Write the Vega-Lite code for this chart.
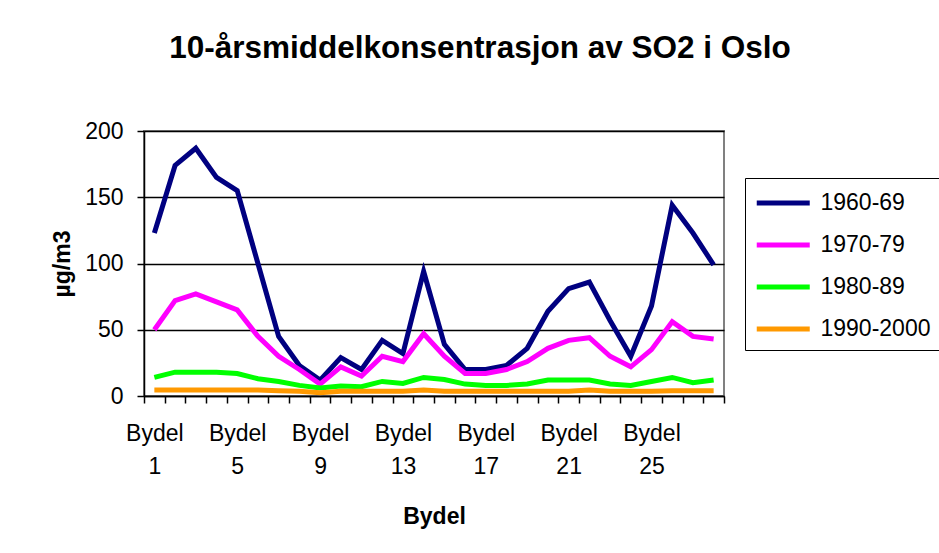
{
  "$schema": "https://vega.github.io/schema/vega-lite/v6.json",
  "autosize": {"type": "none"},
  "width": 580,
  "height": 265,
  "padding": {"left": 144, "top": 131, "right": 215, "bottom": 157},
  "background": "white",
  "config": {
    "font": "Liberation Sans",
    "view": {"stroke": "#808080", "strokeWidth": 2}
  },
  "title": {
    "text": "10-årsmiddelkonsentrasjon av SO2 i Oslo",
    "fontSize": 31.5,
    "fontWeight": "bold",
    "font": "Liberation Sans",
    "color": "black",
    "anchor": "middle",
    "frame": "group",
    "baseline": "alphabetic",
    "offset": 31,
    "dx": 46
  },
  "data": {
    "values": [
      {"bydel": 1, "periode": "1960-69", "verdi": 123},
      {"bydel": 2, "periode": "1960-69", "verdi": 174},
      {"bydel": 3, "periode": "1960-69", "verdi": 187},
      {"bydel": 4, "periode": "1960-69", "verdi": 165},
      {"bydel": 5, "periode": "1960-69", "verdi": 155},
      {"bydel": 6, "periode": "1960-69", "verdi": 100},
      {"bydel": 7, "periode": "1960-69", "verdi": 45},
      {"bydel": 8, "periode": "1960-69", "verdi": 23},
      {"bydel": 9, "periode": "1960-69", "verdi": 12},
      {"bydel": 10, "periode": "1960-69", "verdi": 29},
      {"bydel": 11, "periode": "1960-69", "verdi": 20},
      {"bydel": 12, "periode": "1960-69", "verdi": 42},
      {"bydel": 13, "periode": "1960-69", "verdi": 32},
      {"bydel": 14, "periode": "1960-69", "verdi": 94},
      {"bydel": 15, "periode": "1960-69", "verdi": 39},
      {"bydel": 16, "periode": "1960-69", "verdi": 20},
      {"bydel": 17, "periode": "1960-69", "verdi": 20},
      {"bydel": 18, "periode": "1960-69", "verdi": 23},
      {"bydel": 19, "periode": "1960-69", "verdi": 36},
      {"bydel": 20, "periode": "1960-69", "verdi": 64},
      {"bydel": 21, "periode": "1960-69", "verdi": 81},
      {"bydel": 22, "periode": "1960-69", "verdi": 86},
      {"bydel": 23, "periode": "1960-69", "verdi": 57},
      {"bydel": 24, "periode": "1960-69", "verdi": 30},
      {"bydel": 25, "periode": "1960-69", "verdi": 68},
      {"bydel": 26, "periode": "1960-69", "verdi": 144},
      {"bydel": 27, "periode": "1960-69", "verdi": 123},
      {"bydel": 28, "periode": "1960-69", "verdi": 99},
      {"bydel": 1, "periode": "1970-79", "verdi": 50},
      {"bydel": 2, "periode": "1970-79", "verdi": 72},
      {"bydel": 3, "periode": "1970-79", "verdi": 77},
      {"bydel": 4, "periode": "1970-79", "verdi": 71},
      {"bydel": 5, "periode": "1970-79", "verdi": 65},
      {"bydel": 6, "periode": "1970-79", "verdi": 45},
      {"bydel": 7, "periode": "1970-79", "verdi": 30},
      {"bydel": 8, "periode": "1970-79", "verdi": 20},
      {"bydel": 9, "periode": "1970-79", "verdi": 9},
      {"bydel": 10, "periode": "1970-79", "verdi": 22},
      {"bydel": 11, "periode": "1970-79", "verdi": 15},
      {"bydel": 12, "periode": "1970-79", "verdi": 30},
      {"bydel": 13, "periode": "1970-79", "verdi": 26},
      {"bydel": 14, "periode": "1970-79", "verdi": 47},
      {"bydel": 15, "periode": "1970-79", "verdi": 30},
      {"bydel": 16, "periode": "1970-79", "verdi": 17},
      {"bydel": 17, "periode": "1970-79", "verdi": 17},
      {"bydel": 18, "periode": "1970-79", "verdi": 20},
      {"bydel": 19, "periode": "1970-79", "verdi": 26},
      {"bydel": 20, "periode": "1970-79", "verdi": 36},
      {"bydel": 21, "periode": "1970-79", "verdi": 42},
      {"bydel": 22, "periode": "1970-79", "verdi": 44},
      {"bydel": 23, "periode": "1970-79", "verdi": 30},
      {"bydel": 24, "periode": "1970-79", "verdi": 22},
      {"bydel": 25, "periode": "1970-79", "verdi": 35},
      {"bydel": 26, "periode": "1970-79", "verdi": 56},
      {"bydel": 27, "periode": "1970-79", "verdi": 45},
      {"bydel": 28, "periode": "1970-79", "verdi": 43},
      {"bydel": 1, "periode": "1980-89", "verdi": 14},
      {"bydel": 2, "periode": "1980-89", "verdi": 18},
      {"bydel": 3, "periode": "1980-89", "verdi": 18},
      {"bydel": 4, "periode": "1980-89", "verdi": 18},
      {"bydel": 5, "periode": "1980-89", "verdi": 17},
      {"bydel": 6, "periode": "1980-89", "verdi": 13},
      {"bydel": 7, "periode": "1980-89", "verdi": 11},
      {"bydel": 8, "periode": "1980-89", "verdi": 8},
      {"bydel": 9, "periode": "1980-89", "verdi": 6},
      {"bydel": 10, "periode": "1980-89", "verdi": 7.5},
      {"bydel": 11, "periode": "1980-89", "verdi": 7},
      {"bydel": 12, "periode": "1980-89", "verdi": 11},
      {"bydel": 13, "periode": "1980-89", "verdi": 9.5},
      {"bydel": 14, "periode": "1980-89", "verdi": 14},
      {"bydel": 15, "periode": "1980-89", "verdi": 12.5},
      {"bydel": 16, "periode": "1980-89", "verdi": 9},
      {"bydel": 17, "periode": "1980-89", "verdi": 8},
      {"bydel": 18, "periode": "1980-89", "verdi": 8},
      {"bydel": 19, "periode": "1980-89", "verdi": 9},
      {"bydel": 20, "periode": "1980-89", "verdi": 12},
      {"bydel": 21, "periode": "1980-89", "verdi": 12},
      {"bydel": 22, "periode": "1980-89", "verdi": 12},
      {"bydel": 23, "periode": "1980-89", "verdi": 9},
      {"bydel": 24, "periode": "1980-89", "verdi": 8},
      {"bydel": 25, "periode": "1980-89", "verdi": 11},
      {"bydel": 26, "periode": "1980-89", "verdi": 14},
      {"bydel": 27, "periode": "1980-89", "verdi": 10},
      {"bydel": 28, "periode": "1980-89", "verdi": 12},
      {"bydel": 1, "periode": "1990-2000", "verdi": 4.5},
      {"bydel": 2, "periode": "1990-2000", "verdi": 4.5},
      {"bydel": 3, "periode": "1990-2000", "verdi": 4.5},
      {"bydel": 4, "periode": "1990-2000", "verdi": 4.5},
      {"bydel": 5, "periode": "1990-2000", "verdi": 4.5},
      {"bydel": 6, "periode": "1990-2000", "verdi": 4.5},
      {"bydel": 7, "periode": "1990-2000", "verdi": 4},
      {"bydel": 8, "periode": "1990-2000", "verdi": 3.5},
      {"bydel": 9, "periode": "1990-2000", "verdi": 2.5},
      {"bydel": 10, "periode": "1990-2000", "verdi": 3.5},
      {"bydel": 11, "periode": "1990-2000", "verdi": 3.5},
      {"bydel": 12, "periode": "1990-2000", "verdi": 3.5},
      {"bydel": 13, "periode": "1990-2000", "verdi": 3.5},
      {"bydel": 14, "periode": "1990-2000", "verdi": 4.5},
      {"bydel": 15, "periode": "1990-2000", "verdi": 3.5},
      {"bydel": 16, "periode": "1990-2000", "verdi": 3.5},
      {"bydel": 17, "periode": "1990-2000", "verdi": 3.5},
      {"bydel": 18, "periode": "1990-2000", "verdi": 3.5},
      {"bydel": 19, "periode": "1990-2000", "verdi": 3.5},
      {"bydel": 20, "periode": "1990-2000", "verdi": 3.5},
      {"bydel": 21, "periode": "1990-2000", "verdi": 3.5},
      {"bydel": 22, "periode": "1990-2000", "verdi": 4.5},
      {"bydel": 23, "periode": "1990-2000", "verdi": 3.5},
      {"bydel": 24, "periode": "1990-2000", "verdi": 3.5},
      {"bydel": 25, "periode": "1990-2000", "verdi": 3.5},
      {"bydel": 26, "periode": "1990-2000", "verdi": 4},
      {"bydel": 27, "periode": "1990-2000", "verdi": 4},
      {"bydel": 28, "periode": "1990-2000", "verdi": 4}
    ]
  },
  "mark": {"type": "line", "strokeWidth": 5, "strokeJoin": "miter", "clip": false},
  "encoding": {
    "x": {
      "field": "bydel",
      "type": "ordinal",
      "scale": {"type": "band", "paddingInner": 0, "paddingOuter": 0},
      "axis": {
        "title": "Bydel",
        "titleFontSize": 23,
        "titleFontWeight": "bold",
        "titleColor": "black",
        "titlePadding": 27,
        "labelExpr": "datum.value % 4 == 1 ? ['Bydel', '' + datum.value] : ''",
        "labelAngle": 0,
        "labelOverlap": false,
        "labelFontSize": 23,
        "labelLineHeight": 33,
        "labelColor": "black",
        "labelPadding": 19,
        "tickBand": "extent",
        "tickSize": 7,
        "tickColor": "black",
        "tickWidth": 1.5,
        "domainColor": "black",
        "domainWidth": 1.5,
        "grid": false
      }
    },
    "y": {
      "field": "verdi",
      "type": "quantitative",
      "scale": {"domain": [0, 200], "nice": false},
      "axis": {
        "title": "µg/m3",
        "titleFontSize": 23,
        "titleFontWeight": "bold",
        "titleColor": "black",
        "titlePadding": 10,
        "values": [0, 50, 100, 150, 200],
        "labelFontSize": 23,
        "labelColor": "black",
        "labelPadding": 14,
        "tickSize": 7,
        "tickColor": "black",
        "tickWidth": 1.5,
        "domainColor": "black",
        "domainWidth": 1.5,
        "grid": true,
        "gridColor": "black",
        "gridWidth": 1.5,
        "gridOpacity": 1
      }
    },
    "color": {
      "field": "periode",
      "type": "nominal",
      "scale": {
        "domain": ["1960-69", "1970-79", "1980-89", "1990-2000"],
        "range": ["#000080", "#FF00FF", "#00FF00", "#FF9900"]
      },
      "legend": {
        "title": null,
        "orient": "none",
        "legendX": 601,
        "legendY": 47,
        "strokeColor": "black",
        "fillColor": "white",
        "padding": 9,
        "symbolType": "M-1,0L3,0",
        "symbolSize": 702,
        "symbolStrokeWidth": 5,
        "labelFontSize": 23,
        "labelColor": "black",
        "labelOffset": 34.5,
        "rowPadding": 14,
        "labelLimit": 300
      }
    }
  }
}
